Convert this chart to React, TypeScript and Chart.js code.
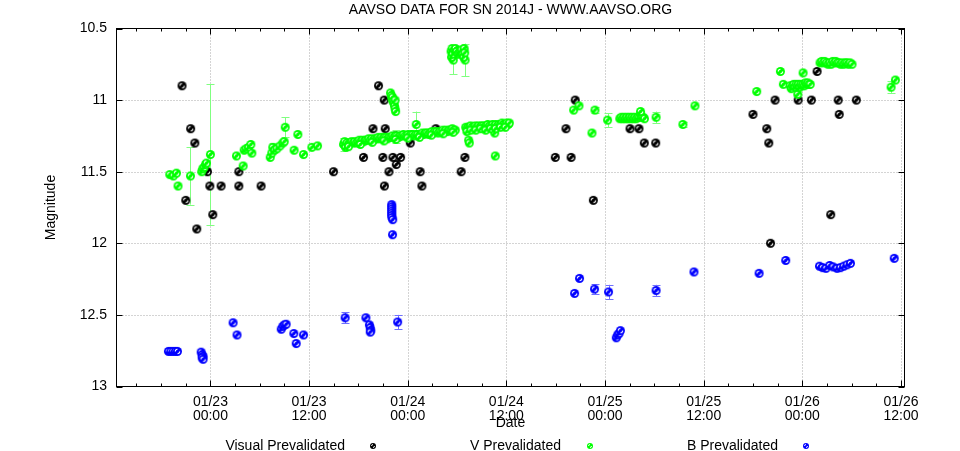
import React, { useEffect, useRef } from 'react';
import { Chart, registerables } from 'chart.js';

Chart.register(...registerables);

// ---- Data (x = day of January 2014, y = magnitude) ----
const visualDates = [
  22.856, 22.875, 22.900, 22.921, 22.931, 22.985, 22.997, 23.012, 23.054, 23.144,
  23.144, 23.257, 23.624, 23.776, 23.824, 23.852, 23.874, 23.881, 23.882, 23.886,
  23.905, 23.925, 23.937, 23.942, 23.964, 24.013, 24.063, 24.072, 24.143, 24.271,
  24.290, 24.748, 24.802, 24.828, 24.849, 24.941, 25.127, 25.172, 25.199, 25.257,
  25.750, 25.820, 25.830, 25.839, 25.862, 25.979, 26.046, 26.075, 26.144, 26.182,
  26.187, 26.274,
];
const visualMags = [
  10.90, 11.70, 11.20, 11.30, 11.90, 11.50, 11.60, 11.80, 11.60, 11.50,
  11.60, 11.60, 11.50, 11.40, 11.20, 10.90, 11.40, 11.00, 11.60, 11.20,
  11.50, 11.40, 11.25, 11.45, 11.40, 11.30, 11.50, 11.60, 11.20, 11.50,
  11.40, 11.40, 11.20, 11.40, 11.00, 11.70, 11.20, 11.20, 11.30, 11.30,
  11.10, 11.20, 11.30, 12.00, 11.00, 11.00, 11.00, 10.80, 11.80, 11.00,
  11.10, 11.00,
];

// V observations (single points, with error bars where drawn)
const vDates = [
  22.794, 22.812, 22.828, 22.836, 22.899, 22.956, 22.961, 22.968, 22.975, 22.980,
  23.000, 23.132, 23.166, 23.171, 23.181, 23.193, 23.205, 23.210, 23.303, 23.311,
  23.316, 23.325, 23.337, 23.353, 23.367, 23.374, 23.379, 23.424, 23.443, 23.472,
  23.514, 23.543, 23.678, 23.942, 24.043, 24.231, 24.291, 24.309, 24.312, 24.441,
  24.444, 24.841, 24.868, 24.934, 24.949, 25.013, 25.259, 25.395, 25.456, 25.769,
  25.889, 25.904, 25.977, 26.004, 26.450, 26.472,
];
const vMags = [
  11.52, 11.53, 11.51, 11.60, 11.53, 11.50, 11.48, 11.47, 11.45, 11.44,
  11.38, 11.39, 11.46, 11.35, 11.34, 11.33, 11.31, 11.37, 11.40, 11.37,
  11.33, 11.35, 11.34, 11.32, 11.30, 11.29, 11.19, 11.35, 11.24, 11.38,
  11.33, 11.32, 11.31, 11.255, 11.17, 10.72, 10.72, 11.28, 11.30, 11.23,
  11.39, 11.07, 11.04, 11.23, 11.07, 11.14, 11.12, 11.17, 11.04, 10.94,
  10.80, 10.89, 10.96, 10.81, 10.91, 10.86,
];
const vErrs = [
  0, 0, 0, 0, 0.20, 0, 0, 0, 0, 0,
  0.49, 0, 0, 0, 0, 0, 0, 0, 0, 0,
  0.03, 0, 0, 0, 0, 0, 0.07, 0, 0, 0,
  0, 0, 0.045, 0.045, 0.09, 0.10, 0.115, 0, 0, 0,
  0, 0, 0, 0, 0.02, 0.05, 0.04, 0.02, 0, 0,
  0, 0, 0, 0, 0.04, 0,
];

// V observations in dense runs
const vRunDates = [
  // run 23.67 - 24.24
  23.675, 23.680, 23.685, 23.692, 23.700, 23.708, 23.715, 23.722, 23.730, 23.738,
  23.746, 23.754, 23.762, 23.770, 23.778, 23.786, 23.794, 23.802, 23.810, 23.818,
  23.826, 23.834, 23.842, 23.850, 23.858, 23.866, 23.874, 23.882, 23.890, 23.898,
  23.906, 23.914, 23.922, 23.930, 23.938, 23.946, 23.954, 23.962, 23.970, 23.978,
  23.986, 23.994, 24.002, 24.010, 24.018, 24.026, 24.034, 24.042, 24.050, 24.058,
  24.066, 24.074, 24.082, 24.090, 24.098, 24.106, 24.114, 24.122, 24.130, 24.138,
  24.146, 24.154, 24.162, 24.170, 24.178, 24.186, 24.194, 24.202, 24.210, 24.218,
  24.226, 24.234, 24.241,
  23.700, 23.760, 23.820, 23.880, 23.940, 24.000, 24.060, 24.120, 24.180, 24.230,
  // excursion 23.91 - 23.94
  23.913, 23.917, 23.920, 23.923, 23.926, 23.930, 23.933, 23.936, 23.939, 23.936,
  // bright group 24.22 - 24.29
  24.220, 24.222, 24.225, 24.228, 24.236, 24.242, 24.248, 24.254, 24.260, 24.266,
  24.272, 24.278, 24.283, 24.286, 24.289,
  // run 24.29 - 24.52
  24.294, 24.300, 24.306, 24.312, 24.318, 24.326, 24.334, 24.342, 24.350, 24.358,
  24.366, 24.374, 24.382, 24.390, 24.398, 24.406, 24.414, 24.422, 24.430, 24.438,
  24.446, 24.454, 24.462, 24.470, 24.478, 24.486, 24.494, 24.502, 24.510, 24.515,
  24.300, 24.320, 24.345, 24.370, 24.395, 24.420, 24.445, 24.470, 24.495,
  // run 25.07 - 25.20
  25.075, 25.082, 25.089, 25.096, 25.103, 25.110, 25.117, 25.124, 25.131, 25.138,
  25.145, 25.152, 25.159, 25.166, 25.173, 25.180, 25.187, 25.194, 25.200, 25.180,
  // group 25.94 - 26.04
  25.938, 25.944, 25.950, 25.956, 25.962, 25.968, 25.974, 25.980, 25.986, 25.992,
  25.998, 26.004, 26.010, 26.016, 26.022, 26.028, 26.034, 26.040,
  // run 26.09 - 26.25
  26.090, 26.098, 26.106, 26.114, 26.122, 26.130, 26.138, 26.146, 26.154, 26.162,
  26.170, 26.178, 26.186, 26.194, 26.202, 26.210, 26.218, 26.226, 26.234, 26.242,
  26.252,
];
const vRunMags = [
  11.31, 11.29, 11.33, 11.30, 11.31, 11.30, 11.29, 11.30, 11.29, 11.30,
  11.29, 11.28, 11.29, 11.28, 11.29, 11.28, 11.28, 11.27, 11.28, 11.27,
  11.28, 11.27, 11.27, 11.26, 11.27, 11.26, 11.27, 11.26, 11.26, 11.27,
  11.26, 11.26, 11.25, 11.26, 11.25, 11.25, 11.26, 11.25, 11.25, 11.24,
  11.25, 11.25, 11.24, 11.25, 11.24, 11.24, 11.25, 11.24, 11.24, 11.25,
  11.24, 11.23, 11.24, 11.23, 11.23, 11.24, 11.23, 11.22, 11.23, 11.22,
  11.22, 11.23, 11.22, 11.22, 11.21, 11.22, 11.21, 11.22, 11.21, 11.21,
  11.20, 11.21, 11.21,
  11.325, 11.31, 11.295, 11.285, 11.275, 11.265, 11.26, 11.245, 11.235, 11.225,
  10.95, 10.97, 10.99, 10.98, 11.01, 11.02, 11.04, 11.06, 11.08, 11.00,
  10.66, 10.70, 10.64, 10.68, 10.65, 10.64, 10.66, 10.68, 10.67, 10.66,
  10.65, 10.68, 10.70, 10.64, 10.67,
  11.19, 11.20, 11.19, 11.19, 11.18, 11.19, 11.19, 11.18, 11.19, 11.18,
  11.19, 11.18, 11.18, 11.19, 11.18, 11.17, 11.18, 11.18, 11.17, 11.18,
  11.17, 11.18, 11.17, 11.17, 11.16, 11.17, 11.17, 11.16, 11.17, 11.16,
  11.22, 11.21, 11.21, 11.20, 11.21, 11.20, 11.20, 11.19, 11.19,
  11.13, 11.12, 11.13, 11.12, 11.13, 11.12, 11.13, 11.12, 11.13, 11.12,
  11.13, 11.12, 11.13, 11.12, 11.12, 11.10, 11.12, 11.12, 11.13, 11.08,
  10.90, 10.92, 10.90, 10.89, 10.91, 10.89, 10.90, 10.89, 10.91, 10.89,
  10.90, 10.89, 10.90, 10.88, 10.89, 10.88, 10.89, 10.89,
  10.74, 10.73, 10.74, 10.73, 10.74, 10.75, 10.74, 10.75, 10.73, 10.74,
  10.73, 10.74, 10.74, 10.75, 10.74, 10.75, 10.74, 10.74, 10.75, 10.74,
  10.75,
];

const bDates = [
  22.787, 22.799, 22.811, 22.823, 22.833, 22.953, 22.958, 22.963, 22.958, 22.963,
  23.115, 23.135, 23.359, 23.367, 23.375, 23.384, 23.423, 23.435, 23.472, 23.683,
  23.788, 23.806, 23.810, 23.813, 23.810, 23.919, 23.919, 23.919, 23.919, 23.919,
  23.919, 23.920, 23.924, 23.923, 23.949, 24.846, 24.871, 24.947, 25.018, 25.057,
  25.064, 25.071, 25.078, 25.259, 25.451, 25.781, 25.916, 26.087, 26.103, 26.120,
  26.139, 26.156, 26.176, 26.193, 26.210, 26.227, 26.244, 26.466,
];
const bMags = [
  12.755, 12.755, 12.755, 12.755, 12.755, 12.76, 12.78, 12.79, 12.80, 12.81,
  12.555, 12.64, 12.60, 12.58, 12.57, 12.565, 12.63, 12.70, 12.64, 12.52,
  12.52, 12.57, 12.59, 12.61, 12.62, 11.73, 11.745, 11.76, 11.775, 11.79,
  11.805, 11.82, 11.835, 11.94, 12.55, 12.35, 12.245, 12.32, 12.34, 12.66,
  12.64, 12.63, 12.61, 12.33, 12.20, 12.21, 12.12, 12.16, 12.17, 12.175,
  12.155, 12.165, 12.175, 12.17, 12.16, 12.15, 12.14, 12.105,
];
const bErrs = [
  0, 0, 0, 0, 0, 0, 0, 0, 0, 0,
  0, 0, 0, 0, 0, 0, 0, 0, 0, 0.04,
  0, 0, 0, 0, 0, 0, 0, 0, 0, 0,
  0, 0, 0, 0, 0.05, 0, 0, 0.035, 0.05, 0,
  0, 0, 0, 0.04, 0, 0, 0, 0, 0, 0,
  0, 0, 0, 0, 0, 0, 0, 0,
];

const seriesNames = ['Visual Prevalidated', 'V Prevalidated', 'B Prevalidated'];
const seriesColors = ['#000000', '#00ff00', '#0000ff'];
const errColors = ['#000000', '#80ff80', '#7070ff'];

const xMajorTicks = [23.0, 23.5, 24.0, 24.5, 25.0, 25.5, 26.0, 26.5];
const xMajorLabels = [
  ['01/23', '00:00'], ['01/23', '12:00'], ['01/24', '00:00'], ['01/24', '12:00'],
  ['01/25', '00:00'], ['01/25', '12:00'], ['01/26', '00:00'], ['01/26', '12:00'],
];
const yTicks = [10.5, 11, 11.5, 12, 12.5, 13];

const titleText = 'AAVSO DATA FOR SN 2014J - WWW.AAVSO.ORG';
const xTitle = 'Date';
const yTitle = 'Magnitude';

const FONT = '"Liberation Sans", Arial, Helvetica, sans-serif';

// gnuplot-like "circle with dot" marker: solid disc with two small white arcs
function makeMarker(color: string, r: number, ring: number, lw: number): HTMLCanvasElement {
  const s = Math.ceil(r * 2 + 2);
  const c = document.createElement('canvas');
  c.width = s;
  c.height = s;
  const g = c.getContext('2d')!;
  const m = s / 2;
  g.fillStyle = color;
  g.beginPath();
  g.arc(m, m, r, 0, Math.PI * 2);
  g.fill();
  g.strokeStyle = '#ffffff';
  g.lineWidth = lw;
  g.beginPath();
  g.arc(m, m, ring, Math.PI, Math.PI * 1.5);
  g.stroke();
  g.beginPath();
  g.arc(m, m, ring, 0, Math.PI * 0.5);
  g.stroke();
  return c;
}

function toPoints(xs: number[], ys: number[]) {
  return xs.map((x, i) => ({ x, y: ys[i] }));
}

export default function App() {
  const ref = useRef<HTMLCanvasElement | null>(null);

  useEffect(() => {
    document.body.style.margin = '0';
    const canvas = ref.current;
    if (!canvas) return;

    const markers = seriesColors.map((c) => makeMarker(c, 4.5, 2.2, 1.1));
    const legendMarkers = seriesColors.map((c) => makeMarker(c, 3, 1.5, 0.9));

    const errSets = [
      { xs: vDates, ys: vMags, es: vErrs, color: errColors[1] },
      { xs: bDates, ys: bMags, es: bErrs, color: errColors[2] },
    ];

    const decor = {
      id: 'decor',
      beforeDatasetsDraw(chart: any) {
        const { ctx, chartArea: a, scales } = chart;
        const x = scales.x;
        const y = scales.y;
        ctx.save();
        ctx.strokeStyle = '#a8a8a8';
        ctx.lineWidth = 1;
        ctx.setLineDash([1, 2]);
        ctx.beginPath();
        for (const v of xMajorTicks) {
          const px = Math.round(x.getPixelForValue(v)) + 0.5;
          ctx.moveTo(px, a.top);
          ctx.lineTo(px, a.bottom);
        }
        for (const v of yTicks.slice(1, -1)) {
          const py = Math.round(y.getPixelForValue(v)) + 0.5;
          ctx.moveTo(a.left, py);
          ctx.lineTo(a.right, py);
        }
        ctx.stroke();
        ctx.setLineDash([]);
        for (const s of errSets) {
          ctx.strokeStyle = s.color;
          ctx.beginPath();
          s.es.forEach((e, i) => {
            if (!e) return;
            const px = Math.round(x.getPixelForValue(s.xs[i])) + 0.5;
            const y1 = y.getPixelForValue(s.ys[i] - e);
            const y2 = y.getPixelForValue(s.ys[i] + e);
            ctx.moveTo(px, y1);
            ctx.lineTo(px, y2);
            const t1 = Math.round(y1) + 0.5;
            const t2 = Math.round(y2) + 0.5;
            ctx.moveTo(px - 4, t1);
            ctx.lineTo(px + 4, t1);
            ctx.moveTo(px - 4, t2);
            ctx.lineTo(px + 4, t2);
          });
          ctx.stroke();
        }
        ctx.restore();
      },
      afterDatasetsDraw(chart: any) {
        const { ctx, chartArea: a, scales } = chart;
        const x = scales.x;
        const y = scales.y;
        ctx.save();
        ctx.strokeStyle = '#000';
        ctx.lineWidth = 1;
        ctx.beginPath();
        const minor: number[] = [];
        for (let v = Math.ceil(x.min * 8) / 8; v <= x.max; v += 0.125) minor.push(v);
        for (const v of minor) {
          const isMajor = Math.abs(v * 2 - Math.round(v * 2)) < 1e-6;
          const len = isMajor ? 6 : 3;
          const px = Math.round(x.getPixelForValue(v)) + 0.5;
          ctx.moveTo(px, a.bottom);
          ctx.lineTo(px, a.bottom - len);
          ctx.moveTo(px, a.top);
          ctx.lineTo(px, a.top + len);
        }
        for (const v of yTicks) {
          const py = Math.round(y.getPixelForValue(v)) + 0.5;
          ctx.moveTo(a.left, py);
          ctx.lineTo(a.left + 6, py);
          ctx.moveTo(a.right, py);
          ctx.lineTo(a.right - 6, py);
        }
        ctx.stroke();
        ctx.strokeRect(a.left, a.top, a.right - a.left, a.bottom - a.top);
        ctx.restore();
      },
      afterDraw(chart: any) {
        const { ctx, chartArea: a, scales } = chart;
        const x = scales.x;
        ctx.save();
        ctx.fillStyle = '#000';
        ctx.font = `14px ${FONT}`;
        ctx.textBaseline = 'alphabetic';
        ctx.textAlign = 'center';
        const cx = (a.left + a.right) / 2;
        ctx.fillText(titleText, cx, 13.5);
        xMajorTicks.forEach((v, i) => {
          const px = x.getPixelForValue(v);
          ctx.fillText(xMajorLabels[i][0], px, 406);
          ctx.fillText(xMajorLabels[i][1], px, 419.5);
        });
        ctx.fillText(xTitle, cx, 426.5);
        ctx.save();
        ctx.translate(55, (a.top + a.bottom) / 2);
        ctx.rotate(-Math.PI / 2);
        ctx.fillText(yTitle, 0, 0);
        ctx.restore();
        const textRight = [345, 561, 778];
        const markX = [373, 590, 806];
        ctx.textAlign = 'right';
        seriesNames.forEach((n, i) => {
          ctx.fillText(n, textRight[i], 450);
          const m = legendMarkers[i];
          ctx.drawImage(m, markX[i] - m.width / 2, 446 - m.height / 2);
        });
        ctx.restore();
      },
    };

    const chart = new Chart(canvas, {
      type: 'scatter',
      data: {
        datasets: [
          {
            label: seriesNames[0],
            data: toPoints(visualDates, visualMags),
            pointStyle: markers[0] as any,
            pointRadius: 4.5,
            order: 3,
          },
          {
            label: seriesNames[1],
            data: [...toPoints(vDates, vMags), ...toPoints(vRunDates, vRunMags)],
            pointStyle: markers[1] as any,
            pointRadius: 4.5,
            order: 2,
          },
          {
            label: seriesNames[2],
            data: toPoints(bDates, bMags),
            pointStyle: markers[2] as any,
            pointRadius: 4.5,
            order: 1,
          },
        ],
      },
      options: {
        responsive: false,
        animation: false,
        events: [],
        devicePixelRatio: 1,
        layout: { padding: { top: 28.5, right: 55.5, left: 0, bottom: 0 } },
        plugins: { legend: { display: false }, title: { display: false }, tooltip: { enabled: false } },
        scales: {
          x: {
            type: 'linear',
            min: 22.524,
            max: 26.518,
            grid: { display: false, drawTicks: false },
            border: { display: false },
            ticks: { display: false },
            afterFit: (s: any) => { s.height = 64.5; },
          },
          y: {
            type: 'linear',
            reverse: true,
            min: 10.5,
            max: 13,
            grid: { display: false, drawTicks: false },
            border: { display: false },
            ticks: {
              stepSize: 0.5,
              color: '#000',
              padding: 9.5,
              font: { family: FONT, size: 14 },
              callback: (v: any) => String(v),
            },
            afterFit: (s: any) => { s.width = 116.5; },
          },
        },
      },
      plugins: [decor],
    });

    return () => chart.destroy();
  }, []);

  return (
    <div style={{ width: 960, height: 451, background: '#fff' }}>
      <canvas ref={ref} width={960} height={451} style={{ display: 'block' }} />
    </div>
  );
}
